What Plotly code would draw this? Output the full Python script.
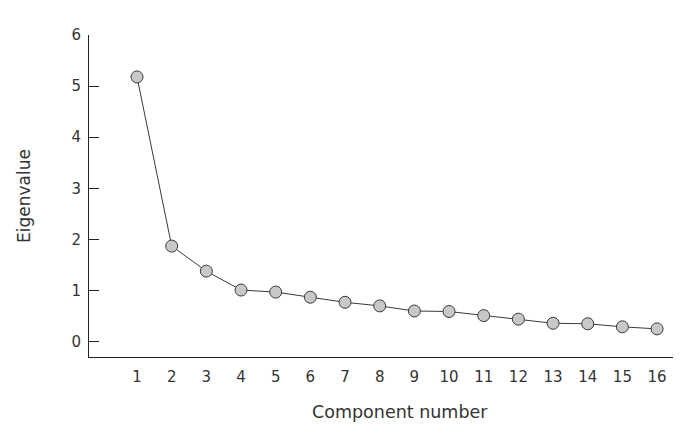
import plotly.graph_objects as go

components = list(range(1, 17))
eigenvalues = [5.18, 1.87, 1.38, 1.01, 0.97, 0.87, 0.77, 0.70,
               0.60, 0.59, 0.51, 0.44, 0.36, 0.35, 0.29, 0.25]
y_ticks = [0, 1, 2, 3, 4, 5, 6]

FONT = "DejaVu Sans"

fig = go.Figure(
    go.Scatter(
        x=components,
        y=eigenvalues,
        mode="lines+markers",
        line=dict(color="#3a3a3a", width=1),
        marker=dict(size=12, color="#c8c8c8", line=dict(color="#3a3a3a", width=1)),
        showlegend=False,
    )
)
# page body has an 8px margin, so the figure is shifted by that much
fig.update_layout(
    width=686,
    height=442,
    margin=dict(l=81, r=21, t=27, b=93),
    plot_bgcolor="white",
    paper_bgcolor="white",
    font=dict(family=FONT, size=15, color="#333333"),
)
fig.update_xaxes(
    range=[-0.385, 16.46],
    tickvals=components,
    tickfont=dict(size=15),
    showgrid=False,
    zeroline=False,
    showline=True,
    linecolor="#222222",
    linewidth=1,
    ticks="",
    ticklabelstandoff=6,
    automargin=False,
)
# x title sits a bit right of the plot centre in the original
fig.add_annotation(
    text="Component number",
    xref="paper", yref="paper",
    x=0.533, y=-0.135,
    xanchor="center", yanchor="top",
    showarrow=False,
    font=dict(size=17.5),
)
fig.update_yaxes(
    range=[-0.3, 6],
    tickvals=y_ticks,
    tickfont=dict(size=15),
    showgrid=False,
    zeroline=False,
    showline=True,
    linecolor="#222222",
    linewidth=1,
    ticks="inside",
    ticklen=10,
    tickcolor="#222222",
    ticklabelstandoff=4,
    automargin=False,
    title=dict(text="Eigenvalue", standoff=36, font=dict(size=17)),
)
fig.write_html("out.html")
